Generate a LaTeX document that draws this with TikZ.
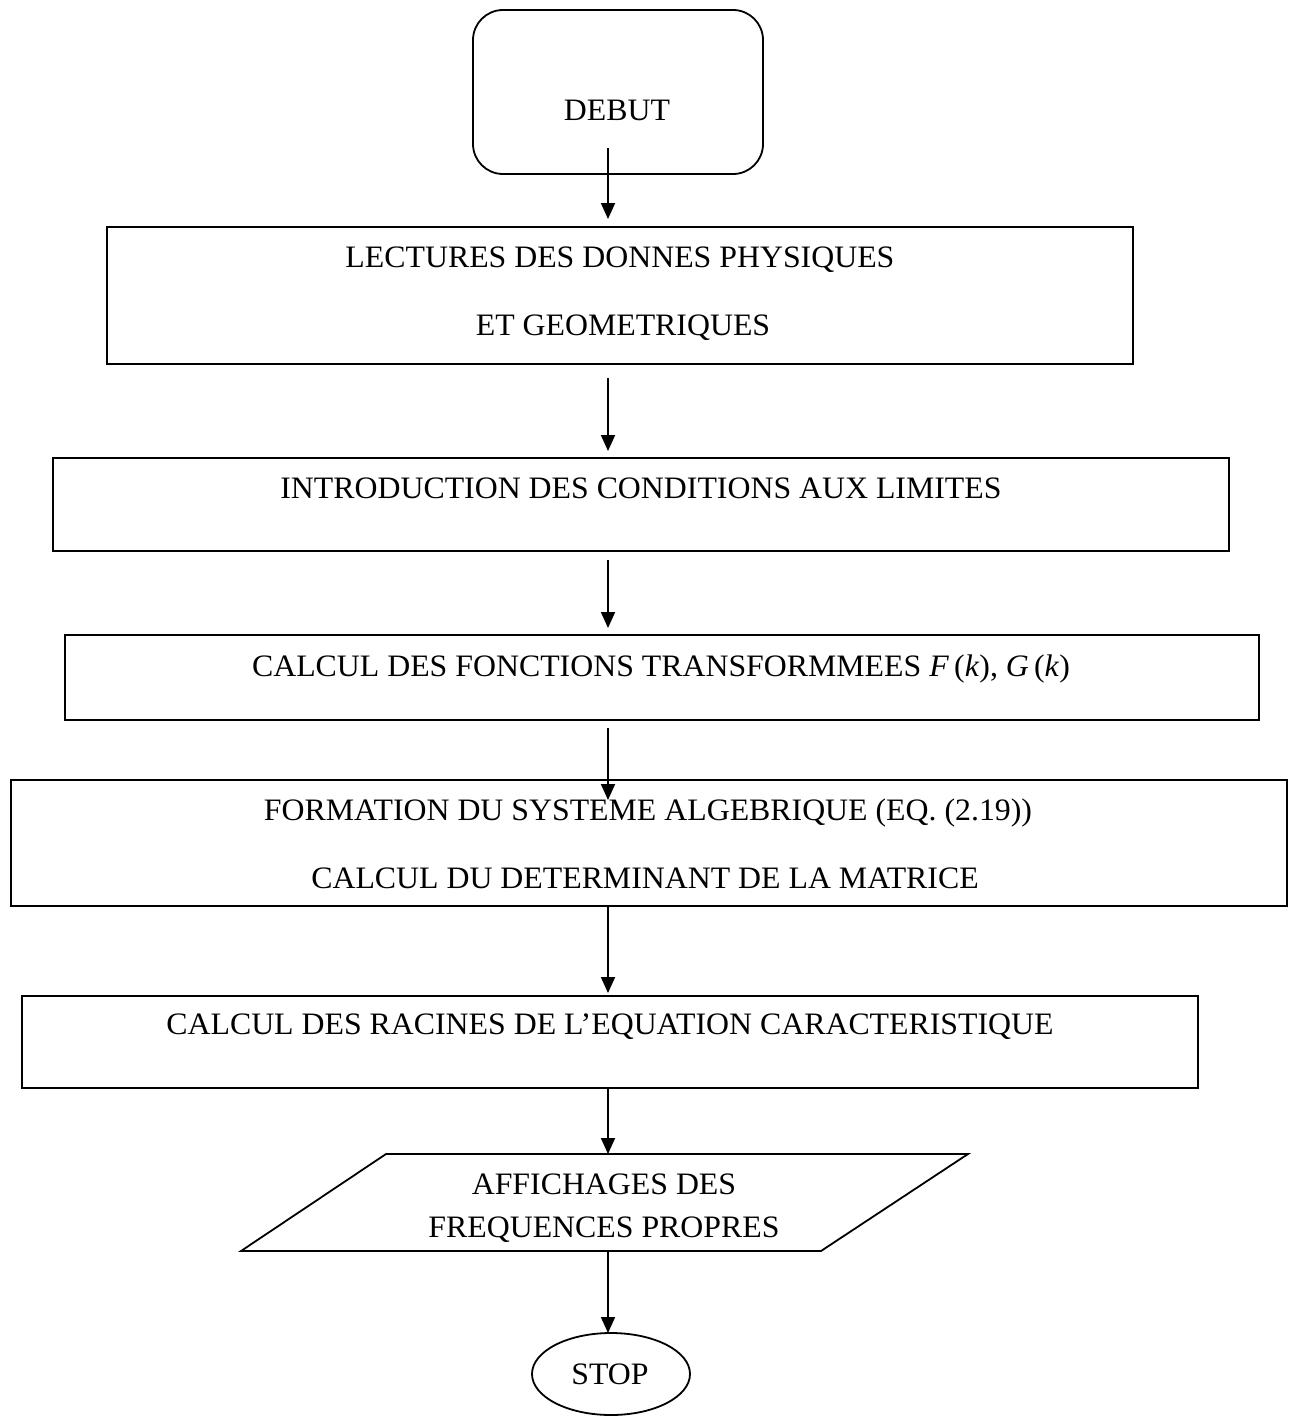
\documentclass[tikz,border=0pt]{standalone}
\usepackage{fontspec}
\setmainfont{Liberation Serif}[FakeStretch=1.02]
\usetikzlibrary{arrows.meta,calc,shapes.geometric}
\begin{document}
\begin{tikzpicture}[x=0.5pt,y=-0.5pt,
  every node/.style={inner sep=0pt,outer sep=0pt},
  txt/.style={font=\fontsize{15.6}{19}\selectfont,anchor=base},
  boxs/.style={draw,line width=0.9pt},
  arr/.style={line width=0.9pt,-{Triangle[length=8pt,width=7pt]}}]
\useasboundingbox (0,0) rectangle (1292,1418);
\coordinate (ax) at (608,0);
% shapes
\draw[boxs,rounded corners=15pt] (473,10) rectangle (763,174);
\node (debut) at (618,92) [minimum width=145pt,minimum height=82pt] {};
\node (b1) [boxs,minimum width=513pt,minimum height=68.5pt] at (620,295.5) {};
\node (b2) [boxs,minimum width=588pt,minimum height=46.5pt] at (641,504.5) {};
\node (b3) [boxs,minimum width=597pt,minimum height=42.5pt] at (662,677.5) {};
\node (b4) [boxs,minimum width=638pt,minimum height=63pt] at (649,843) {};
\node (b5) [boxs,minimum width=588pt,minimum height=46pt] at (610,1042) {};
\draw[boxs] (386,1154) -- (968,1154) -- (821,1251) -- (241,1251) -- cycle;
\node (par) at (604.5,1202.5) [minimum width=290pt,minimum height=48.5pt] {};
\node (stop) [boxs,ellipse,minimum width=79pt,minimum height=41pt] at (611,1374) {};
% texts
\node[txt] (t0) at (617,120) {DEBUT};
\node[txt] (t1a) at (620,267) {LECTURES DES DONNES PHYSIQUES};
\node[txt] (t1b) at (623,335) {ET GEOMETRIQUES};
\node[txt] (t2) at (641,498) {INTRODUCTION DES CONDITIONS AUX LIMITES};
\node[txt] (t3) at (661,676) {CALCUL DES FONCTIONS TRANSFORMMEES \textit{F}\,(\textit{k}), \textit{G}\,(\textit{k})};
\node[txt] (t4a) at (648,820) {FORMATION DU SYSTEME ALGEBRIQUE (EQ. (2.19))};
\node[txt] (t4b) at (645,888) {CALCUL DU DETERMINANT DE LA MATRICE};
\node[txt] (t5) at (610,1034) {CALCUL DES RACINES DE L’EQUATION CARACTERISTIQUE};
\node[txt] (t6a) at (604,1194) {AFFICHAGES DES};
\node[txt] (t6b) at (604,1237) {FREQUENCES PROPRES};
\node[txt] (t7) at (610,1384) {STOP};
% arrows
\draw[arr,shorten <=-13pt,shorten >=4pt] (debut.south -| ax) -- (b1.north -| ax);
\draw[arr,shorten <=7pt,shorten >=3.5pt] (b1.south -| ax) -- (b2.north -| ax);
\draw[arr,shorten <=4.5pt,shorten >=3.5pt] (b2.south -| ax) -- (b3.north -| ax);
\draw[arr,shorten <=4pt,shorten >=-10pt] (b3.south -| ax) -- (b4.north -| ax);
\draw[arr,shorten >=1.5pt] (b4.south -| ax) -- (b5.north -| ax);
\draw[arr] (b5.south -| ax) -- (par.north -| ax);
\draw[arr] (par.south -| ax) -- (stop.north -| ax);
\end{tikzpicture}
\end{document}
